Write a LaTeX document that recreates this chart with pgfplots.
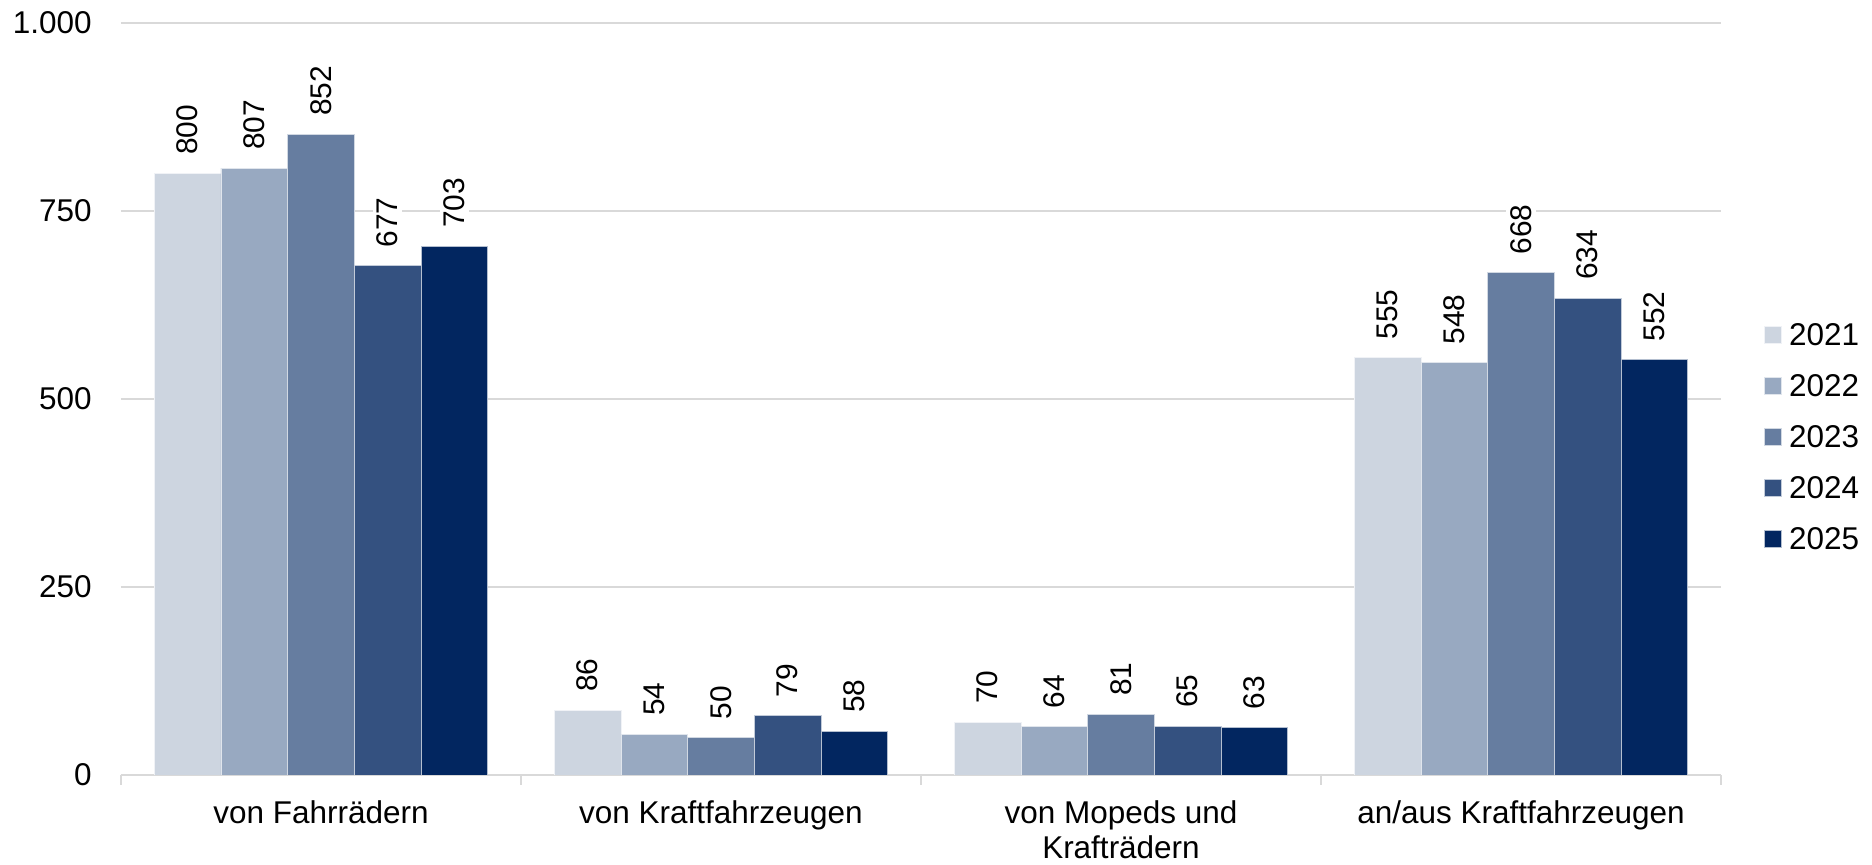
\documentclass[border=0pt]{standalone}
\usepackage{pgfplots}
\pgfplotsset{compat=1.18}
\usepackage{fontspec}
\setmainfont{Liberation Sans}
\newcommand{\fs}{\fontsize{15.8}{17.5}\selectfont}
\newcommand{\fv}{\fontsize{15}{17.5}\selectfont}
\definecolor{c21}{RGB}{205,213,224}
\definecolor{c22}{RGB}{152,169,193}
\definecolor{c23}{RGB}{102,125,160}
\definecolor{c24}{RGB}{52,81,128}
\definecolor{c25}{RGB}{2,38,96}
\definecolor{gridgray}{RGB}{217,217,217}
\begin{document}
\begin{tikzpicture}
	\useasboundingbox (-60.5bp,-45bp) rectangle (875.5bp,387.5bp);
	\begin{axis}[
			at={(0,0)}, anchor=south west,
			scale only axis, width=800bp, height=376bp,
			ybar=0pt, bar width=0.16667,
			xmin=-0.5, xmax=3.5, ymin=0, ymax=1000,
			xtick={0,1,2,3},
			xticklabels={von Fahrrädern, von Kraftfahrzeugen, von Mopeds und\\Krafträdern, an/aus Kraftfahrzeugen},
			ytick={0,250,500,750,1000},
			major tick length=0pt,
			extra x ticks={-0.5,0.5,1.5,2.5,3.5},
			extra x tick labels={},
			extra x tick style={major tick length=5bp, tick align=outside,
					tick style={draw=gridgray, line width=1bp}, grid=none},
			axis x line*=bottom, axis y line*=left,
			x axis line style={draw=gridgray, line width=1bp},
			y axis line style={draw=none},
			ymajorgrids, grid style={draw=gridgray, line width=1bp},
			/pgf/number format/assume math mode=true,
			/pgf/number format/1000 sep={.},
			tick label style={font=\fs},
			xticklabel style={anchor=north, inner sep=0pt, yshift=-12.5bp, align=center},
			yticklabel style={anchor=east, inner sep=0pt, xshift=-14.5bp},
			nodes near coords,
			nodes near coords style={rotate=90, anchor=west, font=\fv, fill=white,
					inner xsep=9bp, inner ysep=2bp, text=black},
			legend style={at={(1,0.4501)}, anchor=west, xshift=21.5bp,
					draw=none, fill=none, font=\fs, inner sep=0pt,
					row sep=14.2bp, column sep=3.5bp,
					nodes={inner sep=0pt, text height=11.3bp, text depth=0pt}},
			legend cell align=left,
			legend image code/.code={\fill[#1] (0bp,-4.25bp) rectangle (8.5bp,4.25bp);},
		]
		\addplot[fill=c21, draw=white!70!c21, line width=0.4bp] coordinates {(0,800) (1,86) (2,70) (3,555)};
		\addplot[fill=c22, draw=white!70!c22, line width=0.4bp] coordinates {(0,807) (1,54) (2,64) (3,548)};
		\addplot[fill=c23, draw=white!70!c23, line width=0.4bp] coordinates {(0,852) (1,50) (2,81) (3,668)};
		\addplot[fill=c24, draw=white!70!c24, line width=0.4bp] coordinates {(0,677) (1,79) (2,65) (3,634)};
		\addplot[fill=c25, draw=white!70!c25, line width=0.4bp] coordinates {(0,703) (1,58) (2,63) (3,552)};
		\legend{2021,2022,2023,2024,2025}
	\end{axis}
\end{tikzpicture}
\end{document}
